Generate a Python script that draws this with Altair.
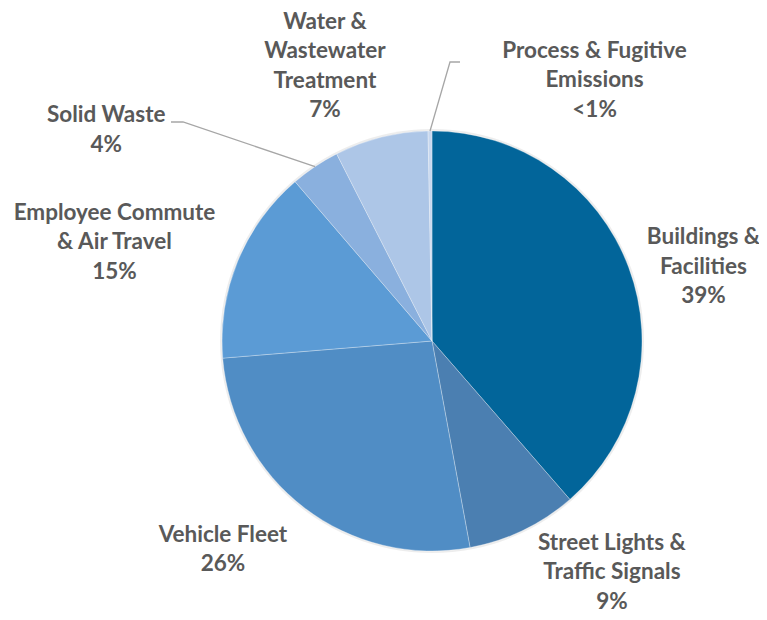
import math
import altair as alt
import pandas as pd

# ---- data ----
categories = [
    "Buildings & Facilities",
    "Street Lights & Traffic Signals",
    "Vehicle Fleet",
    "Employee Commute & Air Travel",
    "Solid Waste",
    "Water & Wastewater Treatment",
    "Process & Fugitive Emissions",
]
values = [38.6, 8.5, 26.6, 15.0, 3.8, 7.2, 0.3]
label_names = [
    "Buildings &\nFacilities",
    "Street Lights &\nTraffic Signals",
    "Vehicle Fleet",
    "Employee Commute\n& Air Travel",
    "Solid Waste",
    "Water &\nWastewater\nTreatment",
    "Process & Fugitive\nEmissions",
]
pct_labels = ["39%", "9%", "26%", "15%", "4%", "7%", "<1%"]

# ---- styling / layout ----
colors = ["#02659a", "#4b7fb1", "#508dc5", "#5b9bd5", "#8ab0de", "#adc6e7", "#c8d8ef"]
R = 210          # pie radius (px)
R_LAB = 260      # base label radius
LINE_H = 29.5
FONT_SIZE = 22.5
# per-label nudges from the mid-angle point (px, y up)
label_nudge = [(28, -17), (67, 3), (-51, -2), (-77, 0), (-181, -5), (-44, 23), (165, 1)]
# leader-line elbows (px from centre, y up) for the two called-out slices
leader_idx = [4, 6]
leader_elbows = [[(-261, 219), (-249, 219)], [(28, 279), (18, 279)]]

W, H = 640, 520
PAD = {"left": 104, "right": 7, "top": 73, "bottom": 11}

df = pd.DataFrame({"category": categories, "value": values, "idx": range(len(values))})

total = sum(values)
cum = 0.0
mids = []
for v in values:
    mids.append((cum + v / 2) / total * 2 * math.pi)
    cum += v

lab_rows = []
for i, m in enumerate(mids):
    txt = label_names[i] + "\n" + pct_labels[i]
    n = txt.count("\n") + 1
    bx = R_LAB * math.sin(m)
    by = R_LAB * math.cos(m)
    lab_rows.append({
        "category": categories[i],
        "text": txt,
        "lx": bx + label_nudge[i][0],
        # first line sits at the anchor, so lift the block to centre it
        "ly": by + label_nudge[i][1] + (n - 1) * LINE_H / 2,
    })
lab_df = pd.DataFrame(lab_rows)

line_rows = []
for k, i in enumerate(leader_idx):
    pts = list(leader_elbows[k]) + [(R * math.sin(mids[i]), R * math.cos(mids[i]))]
    for s, (px, py) in enumerate(pts):
        line_rows.append({"grp": categories[i], "seq": s, "lx": px, "ly": py})
line_df = pd.DataFrame(line_rows)

xs = alt.Scale(domain=[-W / 2, W / 2])
ys = alt.Scale(domain=[-H / 2, H / 2])

shadow = alt.Chart(pd.DataFrame({"value": [1]})).mark_arc(
    radius=R + 2, color="#000000", opacity=0.07
).encode(theta=alt.Theta("value:Q"))

pie = alt.Chart(df).mark_arc(radius=R, stroke="#ffffff", strokeWidth=0.3).encode(
    theta=alt.Theta("value:Q", stack=True),
    order=alt.Order("idx:Q"),
    color=alt.Color("category:N", scale=alt.Scale(domain=categories, range=colors), legend=None),
)

leaders = alt.Chart(line_df).mark_line(color="#a6a6a6", strokeWidth=1.3).encode(
    x=alt.X("lx:Q", scale=xs, axis=None),
    y=alt.Y("ly:Q", scale=ys, axis=None),
    detail="grp:N",
    order="seq:Q",
)

labels = alt.Chart(lab_df).mark_text(
    font="Lato", fontWeight="bold", fontSize=FONT_SIZE, color="#595959",
    lineBreak="\n", lineHeight=LINE_H, align="center", baseline="middle",
).encode(
    x=alt.X("lx:Q", scale=xs, axis=None),
    y=alt.Y("ly:Q", scale=ys, axis=None),
    text="text:N",
)

chart = alt.layer(shadow, pie, leaders, labels).properties(
    width=W, height=H,
    autosize=alt.AutoSizeParams(type="none"),
    padding=PAD,
    background="#ffffff",
).configure_view(stroke=None).resolve_scale(theta="independent")

chart.save("out.html", embed_options={"renderer": "svg", "actions": False})
